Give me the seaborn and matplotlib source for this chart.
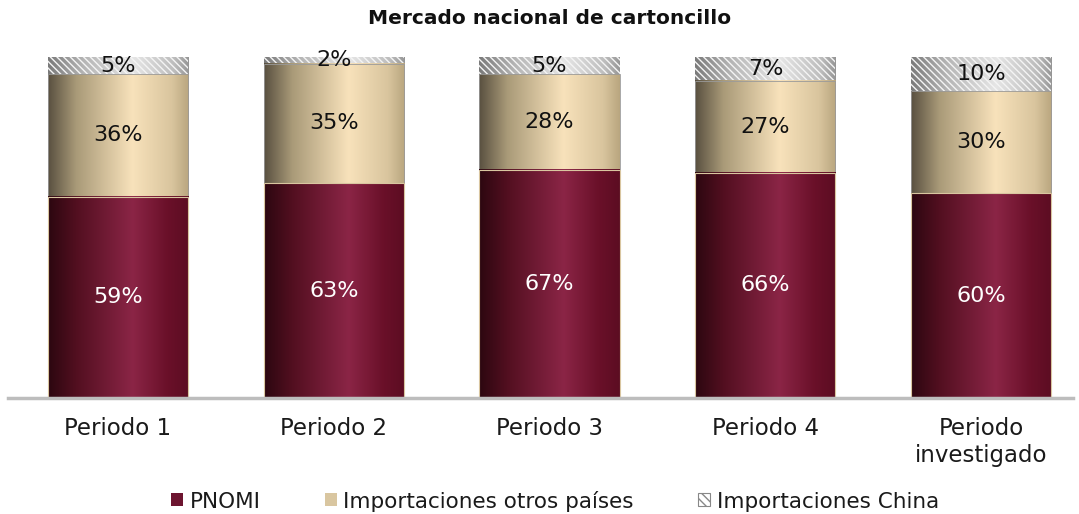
import matplotlib
matplotlib.use('Agg')
import numpy as np
import pandas as pd
import matplotlib.pyplot as plt
import seaborn as sns
from matplotlib.colors import LinearSegmentedColormap
from matplotlib.patches import Patch

# Datos del mercado nacional de cartoncillo (% de participacion)
periodos = ['Periodo 1', 'Periodo 2', 'Periodo 3', 'Periodo 4', 'Periodo\ninvestigado']
pnomi = [59, 63, 67, 66, 60]
otros = [36, 35, 28, 27, 30]
china = [5, 2, 5, 7, 10]

df = pd.DataFrame({'periodo': periodos, 'pnomi': pnomi, 'otros': otros, 'china': china})
df['tope_otros'] = df['pnomi'] + df['otros']
df['total'] = df['tope_otros'] + df['china']

sns.set_theme(style='white')
plt.rcParams['font.family'] = ['DejaVu Sans']
plt.rcParams['hatch.linewidth'] = 1.0

# gradientes tipo cilindro
cmap_pnomi = LinearSegmentedColormap.from_list('pnomi', [
    (0.0, '#2c0710'), (0.2, '#520f20'), (0.6, '#8b2546'), (0.85, '#6a1029'), (1.0, '#5c0d22')])
cmap_otros = LinearSegmentedColormap.from_list('otros', [
    (0.0, '#595040'), (0.2, '#a99a78'), (0.6, '#f8e2bb'), (0.88, '#d9c59e'), (1.0, '#b9a67f')])
cmap_china = LinearSegmentedColormap.from_list('china', [
    (0.0, '#7a7a7a'), (0.25, '#b4b4b4'), (0.6, '#e6e6e6'), (0.9, '#bcbcbc'), (1.0, '#969696')])

fig = plt.figure(figsize=(10.79, 5.14), dpi=100)
ax = fig.add_axes([8 / 1079, (514 - 398) / 514, (1073 - 8) / 1079, (398 - 57) / 514])

sns.barplot(data=df, x='periodo', y='total', color='#b0b0b0', width=0.65, ax=ax)
sns.barplot(data=df, x='periodo', y='tope_otros', color='#d9c6a0', width=0.65, ax=ax)
sns.barplot(data=df, x='periodo', y='pnomi', color='#6d1530', width=0.65, ax=ax)

grad = np.linspace(0, 1, 256).reshape(1, -1)
capas = [(ax.containers[0], cmap_china, 1.0), (ax.containers[1], cmap_otros, 1.2),
         (ax.containers[2], cmap_pnomi, 1.4)]
for cont, cmap, z in capas:
    for p in cont:
        x0, y0, w, h = p.get_x(), p.get_y(), p.get_width(), p.get_height()
        ax.imshow(grad, extent=[x0, x0 + w, y0, y0 + h], aspect='auto', cmap=cmap,
                  origin='lower', zorder=z, interpolation='bilinear')
        p.set_zorder(z + 0.05)
        p.set_facecolor('none')
        if cmap is cmap_china:
            p.set_edgecolor('#f4f4f4')
            p.set_hatch('\\\\\\\\\\')
            p.set_linewidth(0)
        elif cmap is cmap_otros:
            p.set_edgecolor('#9a9a9a')
            p.set_linewidth(0.6)
        else:
            p.set_edgecolor('#d9c6a0')
            p.set_linewidth(0.8)

# etiquetas de porcentaje
for i, p in enumerate(ax.containers[2]):
    xc = p.get_x() + p.get_width() / 2
    ax.text(xc, pnomi[i] / 2, f'{pnomi[i]}%', ha='center', va='center',
            color='white', fontsize=16, zorder=5)
    ax.text(xc, pnomi[i] + otros[i] / 2, f'{otros[i]}%', ha='center', va='center',
            color='#111111', fontsize=16, zorder=5)
    ax.text(xc, pnomi[i] + otros[i] + china[i] / 2, f'{china[i]}%', ha='center',
            va='center', color='#111111', fontsize=16, zorder=5)

ax.set_xlim(-0.51, 4.426)
ax.set_ylim(0, 100)
ax.set_xlabel('')
ax.set_ylabel('')
ax.set_yticks([])
ax.tick_params(axis='x', length=0, pad=14, labelsize=16.5, labelcolor='#1a1a1a')
for s in ['top', 'left', 'right']:
    ax.spines[s].set_visible(False)
ax.spines['bottom'].set_color('#bdbdbd')
ax.spines['bottom'].set_linewidth(2.5)

fig.text(550 / 1079, 1 - 18 / 514, 'Mercado nacional de cartoncillo', ha='center',
         va='center', fontsize=14.5, fontweight='bold', color='#111111')

handles = [Patch(facecolor='#6d1530', edgecolor='none'),
           Patch(facecolor='#d9c6a0', edgecolor='none'),
           Patch(facecolor='white', edgecolor='#888888', hatch='\\\\\\\\', linewidth=0.8)]
fig.legend(handles, ['PNOMI', 'Importaciones otros países', 'Importaciones China'],
           loc='center', bbox_to_anchor=(555 / 1079, 1 - 501 / 514), ncol=3, frameon=False,
           fontsize=15.5, handlelength=0.55, handleheight=0.55, handletextpad=0.3,
           columnspacing=3.0, labelcolor='#1a1a1a')

fig.savefig('out.png', dpi=100)
